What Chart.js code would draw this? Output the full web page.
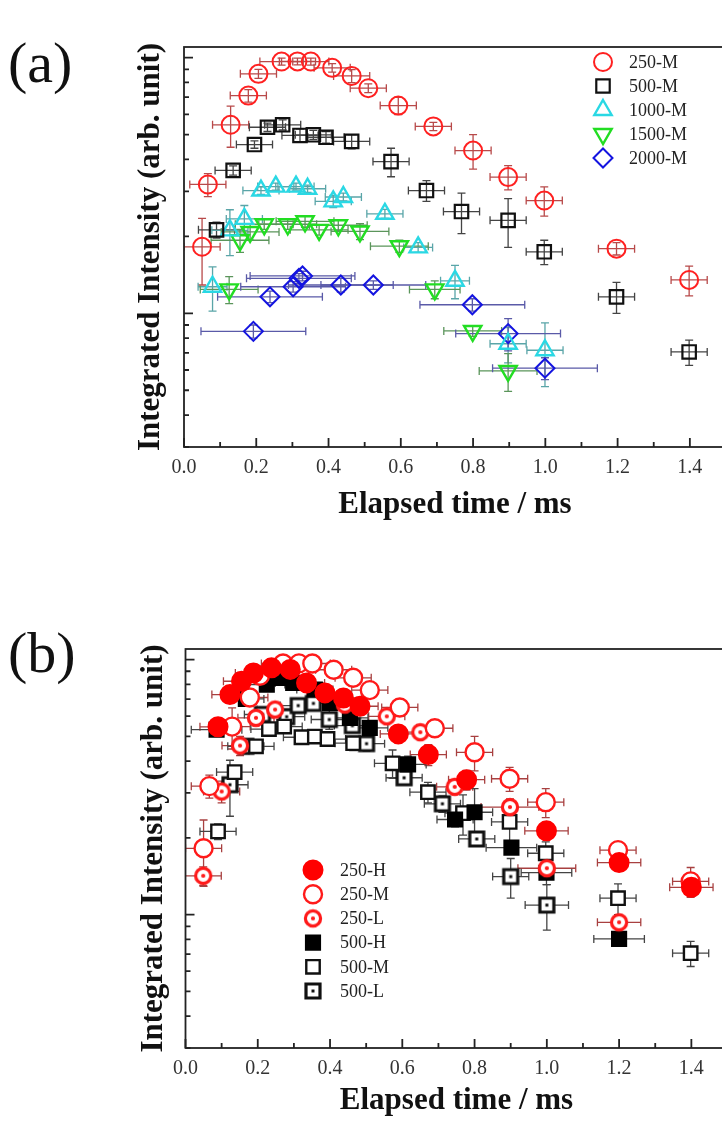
<!DOCTYPE html>
<html>
<head>
<meta charset="utf-8">
<script src="https://cdn.jsdelivr.net/npm/chart.js@4.4.1/dist/chart.umd.min.js"></script>
<style>
  html, body { margin: 0; padding: 0; background: #fff; width: 722px; height: 1124px; overflow: hidden; position: relative; }
  canvas { position: absolute; left: 0; }
  #chartA { top: 0; }
  #chartB { top: 600px; }
  .panel-tag { position: absolute; font-family: 'Liberation Serif', 'Times New Roman', serif; font-size: 58px; line-height: 58px; color: #111; }
</style>
</head>
<body>
<div class="panel-tag" style="left:8px; top:34px;">(a)</div>
<div class="panel-tag" style="left:8px; top:624px;">(b)</div>
<canvas id="chartA" width="740" height="527"></canvas>
<canvas id="chartB" width="742" height="528"></canvas>
<script>
// Axis ticks (x in ms, y is log, arbitrary units)
const xTickValues = [0, 0.2, 0.4, 0.6, 0.8, 1.0, 1.2, 1.4];
const xMinorTicks = [0.1, 0.3, 0.5, 0.7, 0.9, 1.1, 1.3];
const yMajorTicks = [1, 10];
const yMinorTicks = [0.3, 0.4, 0.5, 0.6, 0.7, 0.8, 0.9, 2, 3, 4, 5, 6, 7, 8, 9];

// Rows are [time, intensity, time error, intensity error]
// Panel (a) / shared with (b)
const m250 = [
  [0.05, 1.82, 0.05, 0.53], [0.066, 3.19, 0.05, 0.33], [0.129, 5.46, 0.05, 1.0],
  [0.178, 7.1, 0.05, 0.4], [0.206, 8.64, 0.05, 0.35], [0.27, 9.65, 0.06, 0.3],
  [0.314, 9.66, 0.05, 0.3], [0.351, 9.65, 0.05, 0.3], [0.41, 9.12, 0.05, 0.35],
  [0.464, 8.48, 0.05, 0.5], [0.51, 7.59, 0.05, 0.3], [0.593, 6.49, 0.05, 0.5],
  [0.69, 5.38, 0.05, 0.2], [0.80, 4.33, 0.05, 0.67], [0.897, 3.41, 0.05, 0.37],
  [0.997, 2.76, 0.05, 0.36], [1.197, 1.79, 0.05, 0.1], [1.398, 1.35, 0.05, 0.18]
];
const m500 = [
  [0.09, 2.12, 0.05, 0.15], [0.136, 3.62, 0.05, 0.15], [0.195, 4.57, 0.05, 0.15],
  [0.231, 5.34, 0.05, 0.2], [0.273, 5.46, 0.05, 0.25], [0.321, 4.96, 0.05, 0.3],
  [0.358, 4.99, 0.05, 0.2], [0.393, 4.88, 0.05, 0.25], [0.464, 4.70, 0.05, 0.3],
  [0.573, 3.92, 0.05, 0.5], [0.671, 3.02, 0.05, 0.28], [0.768, 2.50, 0.05, 0.45],
  [0.897, 2.31, 0.05, 0.5], [0.997, 1.74, 0.05, 0.19], [1.197, 1.16, 0.05, 0.16],
  [1.398, 0.706, 0.05, 0.08]
];
const m1000 = [
  [0.079, 1.27, 0.04, 0.25], [0.127, 2.11, 0.05, 0.43], [0.167, 2.34, 0.05, 0.3],
  [0.213, 3.02, 0.05, 0.1], [0.254, 3.13, 0.05, 0.1], [0.31, 3.13, 0.05, 0.1],
  [0.342, 3.07, 0.05, 0.1], [0.413, 2.74, 0.05, 0.15], [0.441, 2.85, 0.05, 0.1],
  [0.556, 2.45, 0.05, 0.1], [0.648, 1.81, 0.04, 0.08], [0.75, 1.34, 0.04, 0.2],
  [0.897, 0.76, 0.05, 0.12], [0.999, 0.717, 0.05, 0.2]
];
const m1500 = [
  [0.125, 1.24, 0.08, 0.15], [0.155, 1.93, 0.08, 0.2], [0.183, 2.08, 0.08, 0.15],
  [0.222, 2.23, 0.08, 0.1], [0.287, 2.23, 0.08, 0.1], [0.335, 2.29, 0.08, 0.12],
  [0.374, 2.12, 0.08, 0.1], [0.427, 2.21, 0.08, 0.1], [0.487, 2.09, 0.08, 0.15],
  [0.596, 1.83, 0.08, 0.1], [0.694, 1.24, 0.07, 0.1], [0.799, 0.853, 0.08, 0.04],
  [0.897, 0.595, 0.08, 0.1]
];
const m2000 = [
  [0.192, 0.85, 0.145, 0.05], [0.238, 1.16, 0.145, 0.06], [0.302, 1.27, 0.145, 0.06],
  [0.318, 1.37, 0.145, 0.06], [0.328, 1.40, 0.145, 0.06], [0.434, 1.29, 0.145, 0.08],
  [0.524, 1.29, 0.145, 0.05], [0.798, 1.08, 0.145, 0.06], [0.897, 0.833, 0.145, 0.12],
  [0.999, 0.61, 0.145, 0.06]
];

// Panel (b) only
const h250 = [
  [0.09, 5.45, 0.05, 0.3], [0.123, 7.29, 0.05, 0.4], [0.155, 8.22, 0.05, 0.4],
  [0.188, 8.86, 0.05, 0.4], [0.238, 9.28, 0.05, 0.4], [0.29, 9.15, 0.05, 0.4],
  [0.335, 8.1, 0.05, 0.4], [0.386, 7.4, 0.05, 0.4], [0.437, 7.07, 0.05, 0.4],
  [0.483, 6.56, 0.05, 0.4], [0.589, 5.11, 0.05, 0.4], [0.672, 4.24, 0.05, 0.4],
  [0.778, 3.38, 0.05, 0.3], [0.999, 2.13, 0.06, 0.15], [1.2, 1.60, 0.06, 0.1],
  [1.4, 1.28, 0.06, 0.08]
];
const l250 = [
  [0.049, 1.42, 0.05, 0.12], [0.10, 3.04, 0.05, 0.3], [0.151, 4.6, 0.05, 0.4],
  [0.195, 5.91, 0.05, 0.4], [0.248, 6.37, 0.05, 0.3], [0.441, 6.66, 0.05, 0.3],
  [0.557, 5.99, 0.05, 0.3], [0.65, 5.19, 0.05, 0.3], [0.745, 3.17, 0.05, 0.2],
  [0.898, 2.64, 0.08, 0.2], [1.0, 1.52, 0.08, 0.1], [1.2, 0.933, 0.06, 0.06]
];
const h500 = [
  [0.086, 5.31, 0.07, 0.3], [0.167, 7.01, 0.05, 0.4], [0.225, 7.98, 0.05, 0.4],
  [0.259, 8.48, 0.05, 0.4], [0.298, 8.1, 0.05, 0.5], [0.358, 7.63, 0.05, 0.4],
  [0.40, 6.76, 0.05, 0.4], [0.455, 5.91, 0.05, 0.3], [0.51, 5.40, 0.05, 0.3],
  [0.616, 3.88, 0.05, 0.3], [0.746, 2.36, 0.05, 0.15], [0.80, 2.52, 0.05, 0.6],
  [0.902, 1.83, 0.07, 0.1], [0.999, 1.46, 0.07, 0.15], [1.2, 0.803, 0.07, 0.05]
];
const l500 = [
  [0.123, 3.23, 0.05, 0.8], [0.167, 4.57, 0.05, 0.3], [0.213, 6.09, 0.05, 0.4],
  [0.28, 5.97, 0.05, 0.4], [0.312, 6.6, 0.05, 0.4], [0.354, 6.73, 0.05, 0.4],
  [0.398, 5.82, 0.05, 0.5], [0.462, 5.51, 0.05, 0.3], [0.501, 4.68, 0.05, 0.3],
  [0.605, 3.44, 0.05, 0.2], [0.711, 2.72, 0.05, 0.2], [0.806, 1.98, 0.05, 0.1],
  [0.90, 1.41, 0.05, 0.25], [1.0, 1.09, 0.06, 0.22]
];

const SERIF = "'Liberation Serif', 'Times New Roman', serif";
const CLEAR = 'rgba(0,0,0,0)';

// Ring-with-dot markers used by the "-L" series
function makeDotMarker(shape, color) {
  const c = document.createElement('canvas');
  c.width = 22;
  c.height = 22;
  const g = c.getContext('2d');
  g.fillStyle = '#fff';
  g.strokeStyle = color;
  g.lineWidth = 3.2;
  g.beginPath();
  if (shape === 'circle') g.arc(11, 11, 7.6, 0, Math.PI * 2);
  else g.rect(4, 4, 14, 14);
  g.fill();
  g.stroke();
  g.fillStyle = color;
  g.beginPath();
  if (shape === 'circle') g.arc(11, 11, 2.1, 0, Math.PI * 2);
  else g.rect(9.5, 9.5, 3, 3);
  g.fill();
  return c;
}

function series(label, rows, style) {
  return Object.assign({
    label,
    rows,
    data: rows.map(r => ({ x: r[0], y: r[1] })),
    showLine: false,
    pointRotation: 0,
    pointBorderWidth: 2
  }, style, { pointHoverRadius: style.pointRadius });
}

// Error bars drawn from the scales, under the markers
const errorBars = {
  id: 'errorBars',
  beforeDatasetsDraw(chart) {
    const { ctx, chartArea: a, scales: { x, y } } = chart;
    ctx.save();
    ctx.beginPath();
    ctx.rect(a.left, a.top, a.right - a.left, a.bottom - a.top);
    ctx.clip();
    ctx.lineWidth = 1.3;
    chart.data.datasets.forEach(ds => {
      ctx.strokeStyle = ds.errorColor;
      ds.rows.forEach(([vx, vy, dx, dy]) => {
        const px = x.getPixelForValue(vx);
        const py = y.getPixelForValue(vy);
        const x0 = x.getPixelForValue(vx - dx);
        const x1 = x.getPixelForValue(vx + dx);
        const y0 = y.getPixelForValue(vy + dy);
        const y1 = y.getPixelForValue(Math.max(vy - dy, 0.05));
        ctx.beginPath();
        ctx.moveTo(x0, py); ctx.lineTo(x1, py);
        ctx.moveTo(x0, py - 4); ctx.lineTo(x0, py + 4);
        ctx.moveTo(x1, py - 4); ctx.lineTo(x1, py + 4);
        ctx.moveTo(px, y0); ctx.lineTo(px, y1);
        ctx.moveTo(px - 4, y0); ctx.lineTo(px + 4, y0);
        ctx.moveTo(px - 4, y1); ctx.lineTo(px + 4, y1);
        ctx.stroke();
      });
    });
    ctx.restore();
  }
};

// Box frame with inward ticks on the left and bottom axes
const frameTicks = {
  id: 'frameTicks',
  afterDatasetsDraw(chart) {
    const { ctx, chartArea: a, scales: { x, y } } = chart;
    ctx.save();
    ctx.strokeStyle = '#222';
    ctx.lineWidth = 1.8;
    ctx.strokeRect(a.left, a.top, a.right - a.left, a.bottom - a.top);
    ctx.beginPath();
    const yTick = (v, len) => { const p = y.getPixelForValue(v); ctx.moveTo(a.left, p); ctx.lineTo(a.left + len, p); };
    const xTick = (v, len) => { const p = x.getPixelForValue(v); ctx.moveTo(p, a.bottom); ctx.lineTo(p, a.bottom - len); };
    yMajorTicks.forEach(v => yTick(v, 9));
    yMinorTicks.forEach(v => yTick(v, 5));
    xTickValues.forEach(v => xTick(v, 9));
    xMinorTicks.forEach(v => xTick(v, 5));
    ctx.stroke();
    ctx.restore();
  }
};

// Legend drawn inside the plot with the same marker styles
const markerLegend = {
  id: 'markerLegend',
  afterDraw(chart, args, opts) {
    const ctx = chart.ctx;
    ctx.save();
    ctx.font = opts.fontSize + 'px ' + SERIF;
    ctx.textBaseline = 'middle';
    chart.data.datasets.forEach((ds, i) => {
      const cy = opts.y + i * opts.rowGap;
      ctx.fillStyle = ds.pointBackgroundColor;
      ctx.strokeStyle = ds.pointBorderColor;
      ctx.lineWidth = ds.pointBorderWidth;
      Chart.helpers.drawPoint(ctx, {
        pointStyle: ds.pointStyle,
        rotation: ds.pointRotation,
        radius: ds.pointRadius,
        borderWidth: ds.pointBorderWidth
      }, opts.x, cy);
      ctx.fillStyle = '#222';
      ctx.fillText(ds.label, opts.x + opts.textGap, cy + 1);
    });
    ctx.restore();
  }
};

function buildChart(canvasId, datasets, padding, yWidth, titleGap, legend) {
  return new Chart(document.getElementById(canvasId), {
    type: 'scatter',
    data: { datasets },
    options: {
      responsive: false,
      animation: false,
      events: [],
      layout: { padding },
      plugins: {
        legend: { display: false },
        tooltip: { enabled: false },
        markerLegend: legend
      },
      scales: {
        x: {
          type: 'linear',
          min: 0,
          max: 1.5,
          afterBuildTicks: s => { s.ticks = xTickValues.map(v => ({ value: v })); },
          afterFit: s => { s.height = 80; },
          grid: { display: false, drawTicks: false },
          border: { display: false },
          ticks: {
            padding: 9,
            color: '#333',
            autoSkip: false,
            maxRotation: 0,
            font: { family: SERIF, size: 20 },
            callback: v => Number(v).toFixed(1)
          },
          title: {
            display: true,
            text: 'Elapsed time / ms',
            color: '#111',
            font: { family: SERIF, size: 31, weight: 'bold' },
            padding: { top: 0, bottom: titleGap }
          }
        },
        y: {
          type: 'logarithmic',
          min: 0.3,
          max: 11,
          afterFit: s => { s.width = yWidth; },
          grid: { display: false, drawTicks: false },
          border: { display: false },
          ticks: { display: false },
          title: {
            display: true,
            text: 'Integrated Intensity (arb. unit)',
            color: '#111',
            font: { family: SERIF, size: 31, weight: 'bold' },
            padding: { top: 0, bottom: 0 }
          }
        }
      }
    },
    plugins: [errorBars, frameTicks, markerLegend]
  });
}

// Panel (a): medium series at five sizes
buildChart('chartA', [
  series('250-M', m250, { pointStyle: 'circle', pointRadius: 9, pointBorderColor: '#ff2020', pointBackgroundColor: CLEAR, errorColor: '#b84a4a' }),
  series('500-M', m500, { pointStyle: 'rect', pointRadius: 9.5, pointBorderWidth: 2.2, pointBorderColor: '#111', pointBackgroundColor: CLEAR, errorColor: '#444' }),
  series('1000-M', m1000, { pointStyle: 'triangle', pointRadius: 10, pointBorderWidth: 2.4, pointBorderColor: '#2ad8e4', pointBackgroundColor: CLEAR, errorColor: '#5aa5a8' }),
  series('1500-M', m1500, { pointStyle: 'triangle', pointRotation: 180, pointRadius: 10, pointBorderWidth: 2.4, pointBorderColor: '#22dd22', pointBackgroundColor: CLEAR, errorColor: '#5b955b' }),
  series('2000-M', m2000, { pointStyle: 'rectRot', pointRadius: 9.5, pointBorderColor: '#1414e0', pointBackgroundColor: CLEAR, errorColor: '#5a5aa8' })
], { left: 132, right: 14, top: 47, bottom: 0 }, 52, 3.5,
   { x: 603, y: 62, rowGap: 24, textGap: 26, fontSize: 18 });

// Panel (b): H / M / L series for 250 and 500
buildChart('chartB', [
  series('250-H', h250, { pointStyle: 'circle', pointRadius: 9.5, pointBorderColor: '#ff0000', pointBackgroundColor: '#ff0000', errorColor: '#a84040' }),
  series('250-M', m250, { pointStyle: 'circle', pointRadius: 9, pointBorderWidth: 2.4, pointBorderColor: '#ff1a1a', pointBackgroundColor: '#fff', errorColor: '#a84040' }),
  series('250-L', l250, { pointStyle: makeDotMarker('circle', '#ff1a1a'), pointRadius: 9, pointBorderWidth: 0, pointBorderColor: '#ff1a1a', pointBackgroundColor: '#fff', errorColor: '#a84040' }),
  series('500-H', h500, { pointStyle: 'rect', pointRadius: 10, pointBorderColor: '#000', pointBackgroundColor: '#000', errorColor: '#444' }),
  series('500-M', m500, { pointStyle: 'rect', pointRadius: 9.5, pointBorderWidth: 2.4, pointBorderColor: '#111', pointBackgroundColor: '#fff', errorColor: '#444' }),
  series('500-L', l500, { pointStyle: makeDotMarker('rect', '#111'), pointRadius: 9.5, pointBorderWidth: 0, pointBorderColor: '#111', pointBackgroundColor: '#fff', errorColor: '#444' })
], { left: 135.5, right: 14.5, top: 49, bottom: 0 }, 50, 8,
   { x: 313, y: 270, rowGap: 24.2, textGap: 27, fontSize: 18 });
</script>
</body>
</html>
